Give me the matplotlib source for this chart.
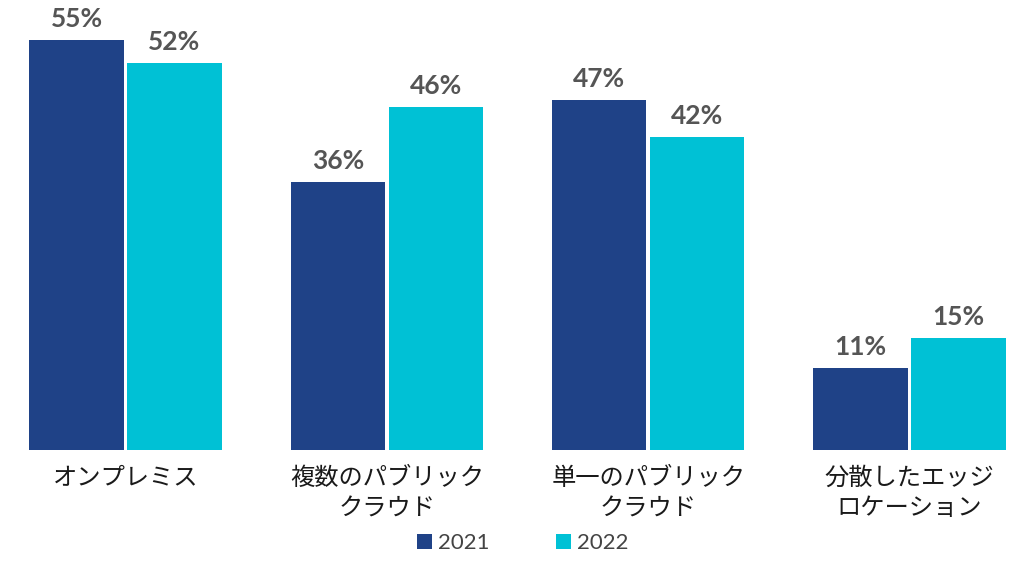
import numpy as np
import matplotlib.pyplot as plt

plt.rcParams['font.family'] = ['Noto Sans CJK JP', 'DejaVu Sans']

categories = ['オンプレミス', '複数のパブリック\nクラウド', '単一のパブリック\nクラウド', '分散したエッジ\nロケーション']
years = ['2021', '2022']
v2021 = [55, 36, 47, 11]
v2022 = [52, 46, 42, 15]

c2021 = '#1f4287'
c2022 = '#00c1d5'
grey = '#555555'

fig = plt.figure(figsize=(10.24, 5.62), dpi=100)
ax = fig.add_axes([0, 112/562, 1, 450/562])

x = np.arange(len(categories))
w = 0.36
off = 0.1875
b1 = ax.bar(x - off, v2021, w, color=c2021, label=years[0])
b2 = ax.bar(x + off, v2022, w, color=c2022, label=years[1])

for bars, vals in [(b1, v2021), (b2, v2022)]:
    for b, v in zip(bars, vals):
        ax.text(b.get_x() + b.get_width()/2, v + 1.2, '%d%%' % v,
                ha='center', va='bottom', fontsize=19, color=grey,
                family=['Lato', 'DejaVu Sans'], fontweight='bold')

ax.set_xlim(-0.4802, 3.438)
ax.set_ylim(0, 60.4)
ax.axis('off')

for xi, lab in zip(x, categories):
    ax.text(xi, -2.0, lab, ha='center', va='top', fontsize=17.5, color='#1a1a1a',
            linespacing=1.22)

leg = fig.legend(handles=[b1, b2], labels=years, loc='center', ncol=2,
                 bbox_to_anchor=(523/1024, 1 - 543/562), frameon=False,
                 handlelength=0.65, handleheight=0.65, handletextpad=0.3,
                 columnspacing=3.0, fontsize=16)
for t in leg.get_texts():
    t.set_color('#444444')
    t.set_family(['Lato', 'DejaVu Sans'])

fig.savefig('out.png', dpi=100, facecolor='white')
